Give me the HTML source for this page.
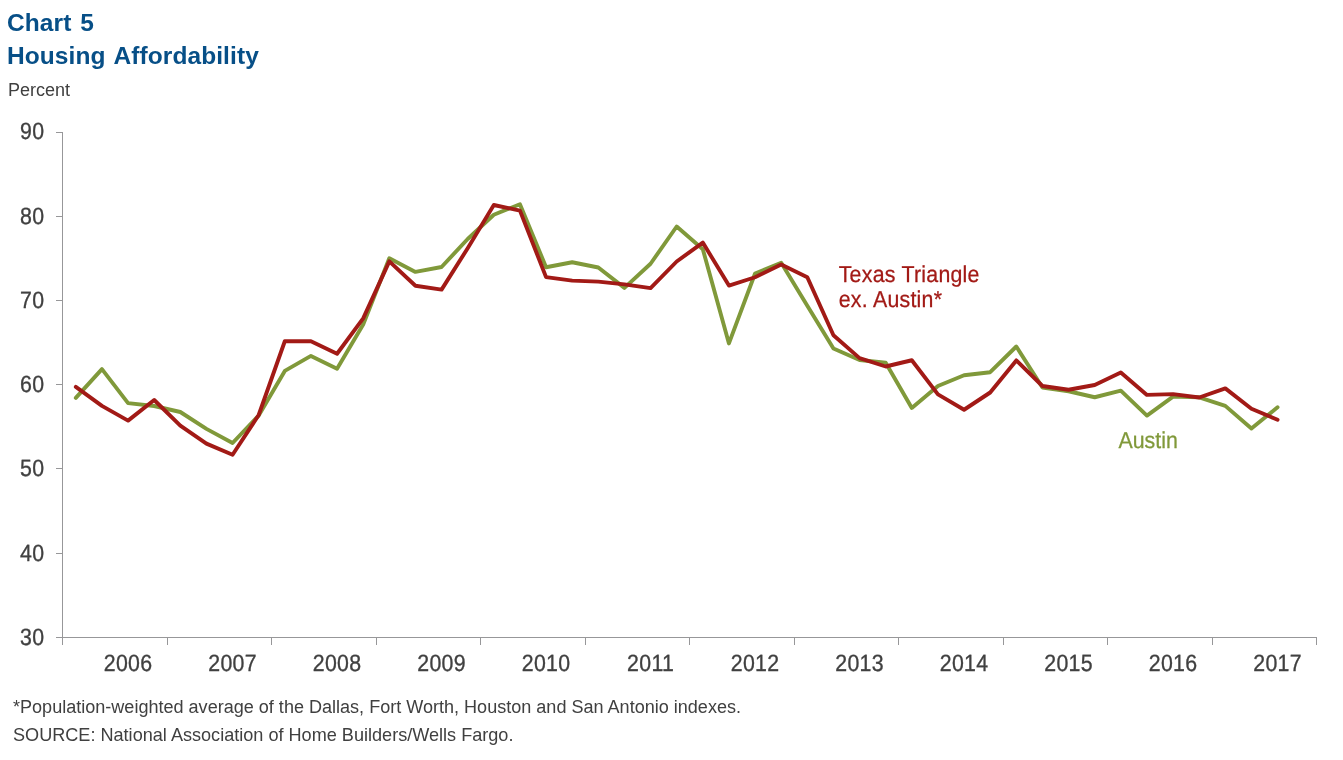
<!DOCTYPE html>
<html lang="en"><head><meta charset="utf-8"><title>Chart 5 Housing Affordability</title>
<style>html,body{margin:0;padding:0;background:#fff}body{width:1343px;height:760px;overflow:hidden}svg{display:block}text{font-family:"Liberation Sans",Arial,Helvetica,sans-serif}</style></head><body>
<svg width="1343" height="760" viewBox="0 0 1343 760">
<rect width="1343" height="760" fill="#fff"/>
<text x="7.00" y="30.80" font-size="24.5" fill="#074f87" font-weight="bold" word-spacing="2" letter-spacing="0.08">Chart 5</text>
<text x="7.00" y="63.90" font-size="24.5" fill="#074f87" font-weight="bold" word-spacing="2" letter-spacing="0.08">Housing Affordability</text>
<text x="8.00" y="95.85" font-size="18" fill="#404040">Percent</text>
<g fill="#979799" shape-rendering="crispEdges">
<rect x="62" y="132" width="1" height="513"/>
<rect x="56" y="637" width="1261" height="1"/>
<rect x="56" y="132" width="6" height="1"/>
<rect x="56" y="216" width="6" height="1"/>
<rect x="56" y="300" width="6" height="1"/>
<rect x="56" y="384" width="6" height="1"/>
<rect x="56" y="468" width="6" height="1"/>
<rect x="56" y="553" width="6" height="1"/>
<rect x="167" y="637" width="1" height="8"/>
<rect x="271" y="637" width="1" height="8"/>
<rect x="376" y="637" width="1" height="8"/>
<rect x="480" y="637" width="1" height="8"/>
<rect x="585" y="637" width="1" height="8"/>
<rect x="689" y="637" width="1" height="8"/>
<rect x="794" y="637" width="1" height="8"/>
<rect x="898" y="637" width="1" height="8"/>
<rect x="1003" y="637" width="1" height="8"/>
<rect x="1107" y="637" width="1" height="8"/>
<rect x="1212" y="637" width="1" height="8"/>
<rect x="1316" y="637" width="1" height="8"/>
</g>
<g>
<text transform="translate(44.70 139.00) scale(1 1.1)" font-size="21.33" fill="#404040" text-anchor="end" stroke="#404040" stroke-width="0.3" text-rendering="geometricPrecision" letter-spacing="0.5">90</text>
<text transform="translate(44.70 224.00) scale(1 1.1)" font-size="21.33" fill="#404040" text-anchor="end" stroke="#404040" stroke-width="0.3" text-rendering="geometricPrecision" letter-spacing="0.5">80</text>
<text transform="translate(44.70 308.00) scale(1 1.1)" font-size="21.33" fill="#404040" text-anchor="end" stroke="#404040" stroke-width="0.3" text-rendering="geometricPrecision" letter-spacing="0.5">70</text>
<text transform="translate(44.70 392.00) scale(1 1.1)" font-size="21.33" fill="#404040" text-anchor="end" stroke="#404040" stroke-width="0.3" text-rendering="geometricPrecision" letter-spacing="0.5">60</text>
<text transform="translate(44.70 476.00) scale(1 1.1)" font-size="21.33" fill="#404040" text-anchor="end" stroke="#404040" stroke-width="0.3" text-rendering="geometricPrecision" letter-spacing="0.5">50</text>
<text transform="translate(44.70 561.00) scale(1 1.1)" font-size="21.33" fill="#404040" text-anchor="end" stroke="#404040" stroke-width="0.3" text-rendering="geometricPrecision" letter-spacing="0.5">40</text>
<text transform="translate(44.70 645.00) scale(1 1.1)" font-size="21.33" fill="#404040" text-anchor="end" stroke="#404040" stroke-width="0.3" text-rendering="geometricPrecision" letter-spacing="0.5">30</text>
</g>
<g>
<text transform="translate(128.11 670.60) scale(1 1.1)" font-size="21.33" fill="#404040" text-anchor="middle" stroke="#404040" stroke-width="0.3" text-rendering="geometricPrecision" letter-spacing="0.3">2006</text>
<text transform="translate(232.61 670.60) scale(1 1.1)" font-size="21.33" fill="#404040" text-anchor="middle" stroke="#404040" stroke-width="0.3" text-rendering="geometricPrecision" letter-spacing="0.3">2007</text>
<text transform="translate(337.11 670.60) scale(1 1.1)" font-size="21.33" fill="#404040" text-anchor="middle" stroke="#404040" stroke-width="0.3" text-rendering="geometricPrecision" letter-spacing="0.3">2008</text>
<text transform="translate(441.61 670.60) scale(1 1.1)" font-size="21.33" fill="#404040" text-anchor="middle" stroke="#404040" stroke-width="0.3" text-rendering="geometricPrecision" letter-spacing="0.3">2009</text>
<text transform="translate(546.11 670.60) scale(1 1.1)" font-size="21.33" fill="#404040" text-anchor="middle" stroke="#404040" stroke-width="0.3" text-rendering="geometricPrecision" letter-spacing="0.3">2010</text>
<text transform="translate(650.61 670.60) scale(1 1.1)" font-size="21.33" fill="#404040" text-anchor="middle" stroke="#404040" stroke-width="0.3" text-rendering="geometricPrecision" letter-spacing="0.3">2011</text>
<text transform="translate(755.11 670.60) scale(1 1.1)" font-size="21.33" fill="#404040" text-anchor="middle" stroke="#404040" stroke-width="0.3" text-rendering="geometricPrecision" letter-spacing="0.3">2012</text>
<text transform="translate(859.61 670.60) scale(1 1.1)" font-size="21.33" fill="#404040" text-anchor="middle" stroke="#404040" stroke-width="0.3" text-rendering="geometricPrecision" letter-spacing="0.3">2013</text>
<text transform="translate(964.11 670.60) scale(1 1.1)" font-size="21.33" fill="#404040" text-anchor="middle" stroke="#404040" stroke-width="0.3" text-rendering="geometricPrecision" letter-spacing="0.3">2014</text>
<text transform="translate(1068.61 670.60) scale(1 1.1)" font-size="21.33" fill="#404040" text-anchor="middle" stroke="#404040" stroke-width="0.3" text-rendering="geometricPrecision" letter-spacing="0.3">2015</text>
<text transform="translate(1173.11 670.60) scale(1 1.1)" font-size="21.33" fill="#404040" text-anchor="middle" stroke="#404040" stroke-width="0.3" text-rendering="geometricPrecision" letter-spacing="0.3">2016</text>
<text transform="translate(1277.61 670.60) scale(1 1.1)" font-size="21.33" fill="#404040" text-anchor="middle" stroke="#404040" stroke-width="0.3" text-rendering="geometricPrecision" letter-spacing="0.3">2017</text>
</g>
<polyline points="75.81,397.90 101.94,369.10 128.06,403.10 154.19,406.00 180.31,412.00 206.44,428.90 232.56,443.00 258.69,415.60 284.81,370.90 310.94,355.90 337.06,368.75 363.19,324.60 389.31,258.25 415.44,271.90 441.56,267.00 467.69,239.00 493.81,214.75 519.94,204.20 546.06,267.25 572.19,262.25 598.31,267.50 624.44,287.90 650.56,263.75 676.69,226.50 702.81,249.20 728.94,343.40 755.06,273.50 781.19,262.75 807.31,305.75 833.44,348.50 859.56,360.00 885.69,362.80 911.81,407.90 937.94,386.00 964.06,375.25 990.19,372.20 1016.31,346.50 1042.44,387.50 1068.56,391.25 1094.69,397.25 1120.81,390.60 1146.94,415.60 1173.06,396.60 1199.19,397.30 1225.31,405.90 1251.44,428.50 1277.56,407.25" fill="none" stroke="#80993a" stroke-width="3.9" stroke-linejoin="round" stroke-linecap="round"/>
<polyline points="75.81,386.90 101.94,405.90 128.06,420.60 154.19,400.00 180.31,425.60 206.44,443.60 232.56,454.70 258.69,415.00 284.81,341.25 310.94,341.25 337.06,353.75 363.19,318.40 389.31,261.40 415.44,285.75 441.56,289.60 467.69,248.20 493.81,205.00 519.94,210.60 546.06,277.10 572.19,280.60 598.31,281.60 624.44,284.40 650.56,288.10 676.69,261.50 702.81,242.60 728.94,285.60 755.06,277.25 781.19,264.50 807.31,277.25 833.44,335.30 859.56,358.10 885.69,366.50 911.81,360.25 937.94,394.40 964.06,409.75 990.19,392.50 1016.31,360.40 1042.44,386.00 1068.56,389.75 1094.69,385.00 1120.81,372.50 1146.94,394.90 1173.06,394.10 1199.19,397.50 1225.31,388.40 1251.44,408.75 1277.56,419.75" fill="none" stroke="#a21a16" stroke-width="3.9" stroke-linejoin="round" stroke-linecap="round"/>
<text transform="translate(838.70 281.50) scale(1 1.08)" font-size="21.33" fill="#a21a16" text-rendering="geometricPrecision" letter-spacing="0.25" stroke="#a21a16" stroke-width="0.25">Texas Triangle</text>
<text transform="translate(838.70 306.80) scale(1 1.08)" font-size="21.33" fill="#a21a16" text-rendering="geometricPrecision" letter-spacing="0.25" stroke="#a21a16" stroke-width="0.25">ex. Austin*</text>
<text transform="translate(1118.50 447.80) scale(1 1.08)" font-size="21.33" fill="#80993a" text-rendering="geometricPrecision" stroke="#80993a" stroke-width="0.25">Austin</text>
<text x="13.00" y="712.90" font-size="18.06" fill="#404040">*Population-weighted average of the Dallas, Fort Worth, Houston and San Antonio indexes.</text>
<text x="13.00" y="740.70" font-size="18.1" fill="#404040">SOURCE: National Association of Home Builders/Wells Fargo.</text>
</svg></body></html>
